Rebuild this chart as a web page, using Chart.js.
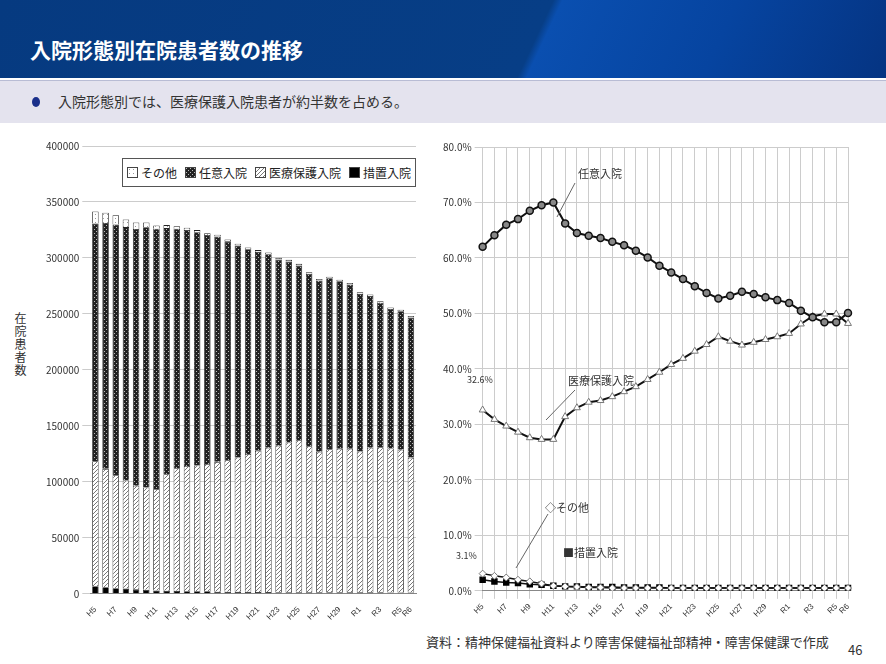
<!DOCTYPE html>
<html><head><meta charset="utf-8">
<script src="https://cdn.jsdelivr.net/npm/chart.js@4"></script>
<style>
body{margin:0;width:886px;height:664px;background:#fff;font-family:"Noto Sans CJK JP","Noto Sans",sans-serif;position:relative;overflow:hidden}
#hdr{position:absolute;left:0;top:0;width:886px;height:78px;background:linear-gradient(115deg,#063a80 0%,#073e86 60%,#0a4fb0 61%,#0644a0 80%,#053482 100%)}
#hdr span{position:absolute;left:30px;top:34px;color:#fff;font-size:21px;font-weight:bold}
#sub{position:absolute;left:0;top:80px;width:886px;height:42px;background:#e4e3ee;border-top:1px solid #b8bcd4}
#sub span{position:absolute;left:58px;top:10px;font-size:14px;color:#333}
#sub i{position:absolute;left:32px;top:16px;width:8px;height:10px;border-radius:50%;background:#1a2f8a}
#c1{position:absolute;left:30px;top:137px}
#c2{position:absolute;left:430px;top:138px}
#yt{position:absolute;left:12px;top:312px;font-size:12px;writing-mode:vertical-rl;color:#333;letter-spacing:1px}
#leg{position:absolute;left:122px;top:158px;width:292px;height:27px;border:1px solid #555;background:#fff;font-size:12px;display:flex;align-items:center;justify-content:space-around;color:#222}
#leg div{display:flex;align-items:center}
#leg canvas{border:1px solid #444;margin-right:3px}
#foot{position:absolute;left:426px;top:632px;font-size:13px;color:#333}
#pg{position:absolute;left:848px;top:640px;font-size:13px;color:#333}
</style></head><body>
<div id="hdr"><span>入院形態別在院患者数の推移</span></div>
<div id="sub"><i></i><span>入院形態別では、医療保護入院患者が約半数を占める。</span></div>
<canvas id="c1" width="400" height="488"></canvas>
<canvas id="c2" width="440" height="484"></canvas>
<div id="yt">在院患者数</div>
<div id="leg"></div>
<div id="foot">資料：精神保健福祉資料より障害保健福祉部精神・障害保健課で作成</div>
<div id="pg">46</div>
<script>
const years=["H5","H6","H7","H8","H9","H10","H11","H12","H13","H14","H15","H16","H17","H18","H19","H20","H21","H22","H23","H24","H25","H26","H27","H28","H29","H30","R1","R2","R3","R4","R5","R6"];
const shownLabels=["H5","H7","H9","H11","H13","H15","H17","H19","H21","H23","H25","H27","H29","R1","R3","R5","R6"];
const totals=[342500,342500,339500,337700,335000,334400,332000,332000,331700,329300,327500,325100,323000,319000,314900,312200,309500,307700,302800,301000,296200,289600,283500,285300,282900,279900,271200,268500,261900,257600,255500,249900];
const ninniPct=[62.0,64.1,66.0,67.0,68.5,69.5,70.0,66.2,64.5,64.0,63.6,62.9,62.3,61.3,60.1,58.6,57.4,56.2,54.9,53.7,52.7,53.2,53.9,53.5,52.9,52.4,51.9,50.5,49.3,48.4,48.4,50.1];
const iryoPct=[32.6,30.9,29.7,28.6,27.6,27.3,27.3,31.4,33.0,34.0,34.3,35.0,35.9,36.8,38.1,39.4,40.8,41.9,43.2,44.4,45.8,45.0,44.3,44.8,45.3,45.8,46.4,48.1,49.5,49.9,49.9,48.2];
const sochiPct=[2.0,1.7,1.5,1.4,1.2,1.1,0.9,0.8,0.8,0.7,0.7,0.7,0.6,0.6,0.6,0.6,0.5,0.5,0.5,0.5,0.5,0.5,0.5,0.5,0.5,0.5,0.5,0.5,0.5,0.5,0.5,0.5];
const sonotaPct=[3.1,2.7,2.4,2.0,1.7,1.3,0.9,0.8,0.7,0.6,0.6,0.5,0.5,0.5,0.5,0.5,0.5,0.5,0.5,0.5,0.5,0.5,0.5,0.5,0.5,0.5,0.5,0.5,0.5,0.5,0.5,0.5];
const share=(p)=>totals.map((t,i)=>Math.round(t*p[i]/100));

function pat(kind){
  const c=document.createElement('canvas');c.width=c.height=4;const g=c.getContext('2d');
  if(kind==='ninni'){g.fillStyle='#222';g.fillRect(0,0,4,4);g.fillStyle='#bbb';g.fillRect(0,0,1,1);g.fillRect(2,2,1,1);}
  else if(kind==='iryo'){g.fillStyle='#fff';g.fillRect(0,0,4,4);g.strokeStyle='#777';g.lineWidth=1;g.beginPath();g.moveTo(0,4);g.lineTo(4,0);g.stroke();}
  else if(kind==='sonota'){g.fillStyle='#fff';g.fillRect(0,0,4,4);g.fillStyle='#999';g.fillRect(1,1,1,1);}
  else {g.fillStyle='#000';g.fillRect(0,0,4,4);}
  return g.createPattern(c,'repeat');
}
const legItems=[["その他","sonota"],["任意入院","ninni"],["医療保護入院","iryo"],["措置入院","sochi"]];
const leg=document.getElementById('leg');
legItems.forEach(([t,k])=>{const d=document.createElement('div');const cv=document.createElement('canvas');cv.width=9;cv.height=9;const g=cv.getContext('2d');g.fillStyle=pat(k);g.fillRect(0,0,9,9);d.appendChild(cv);d.appendChild(document.createTextNode(t));leg.appendChild(d);});

const tickCb=function(v,i){const l=years[i];return shownLabels.includes(l)?l:'';};
const font={family:'"Noto Sans CJK JP",sans-serif',size:10};
new Chart(document.getElementById('c1'),{type:'bar',
 data:{labels:years,datasets:[
  {label:'措置入院',data:share(sochiPct),backgroundColor:pat('sochi'),borderColor:'#222',borderWidth:0.8},
  {label:'医療保護入院',data:share(iryoPct),backgroundColor:pat('iryo'),borderColor:'#222',borderWidth:0.8},
  {label:'任意入院',data:share(ninniPct),backgroundColor:pat('ninni'),borderColor:'#222',borderWidth:0.8},
  {label:'その他',data:share(sonotaPct),backgroundColor:pat('sonota'),borderColor:'#222',borderWidth:0.8}]},
 options:{responsive:false,animation:false,layout:{padding:{left:13,right:14,top:5}},
  plugins:{legend:{display:false},tooltip:{enabled:false}},
  datasets:{bar:{categoryPercentage:0.85,barPercentage:0.75}},
  scales:{x:{stacked:true,grid:{display:false},border:{color:'#888'},ticks:{autoSkip:false,maxRotation:45,minRotation:45,font:{size:8},color:'#333',callback:tickCb}},
   y:{stacked:true,min:0,max:400000,ticks:{stepSize:50000,font:font,color:'#333',callback:v=>String(v)},grid:{color:'#ccc'},border:{display:false}}}}});

const ann={id:'ann',afterDraw(ch){const g=ch.ctx;g.save();g.font='11px "Noto Sans CJK JP",sans-serif';g.fillStyle='#333';g.strokeStyle='#666';g.lineWidth=1;
 const o=430,t=138;
 const line=(a,b,c,d)=>{g.beginPath();g.moveTo(a-o,b-t);g.lineTo(c-o,d-t);g.stroke();};
 const txt=(s,x,y)=>g.fillText(s,x-o,y-t);
 txt('任意入院',578,178);line(575,183,557,217);
 txt('医療保護入院',568,385);line(575,390,546,420);
 g.font='9px "Noto Sans CJK JP",sans-serif';txt('32.6%',467,383);txt('3.1%',456,559);
 g.font='11px "Noto Sans CJK JP",sans-serif';txt('◇その他',545,512);line(548,514,516,568);
 txt('■措置入院',563,557);
 g.restore();}};
new Chart(document.getElementById('c2'),{type:'line',
 data:{labels:years,datasets:[
  {label:'任意入院',data:ninniPct,borderColor:'#111',borderWidth:2,pointStyle:'circle',pointRadius:3.5,pointBackgroundColor:'#888',pointBorderColor:'#111',pointBorderWidth:1.5},
  {label:'医療保護入院',data:iryoPct,borderColor:'#111',borderWidth:2,pointStyle:'triangle',pointRadius:4,pointBackgroundColor:'#fff',pointBorderColor:'#777',pointBorderWidth:1},
  {label:'その他',data:sonotaPct,borderColor:'#111',borderWidth:1.5,pointStyle:'rectRot',pointRadius:3.5,pointBackgroundColor:'#fff',pointBorderColor:'#777',pointBorderWidth:1},
  {label:'措置入院',data:sochiPct,borderColor:'#111',borderWidth:1.5,pointStyle:'rect',pointRadius:3.5,pointBackgroundColor:'#000',pointBorderColor:'#000'}]},
 options:{responsive:false,animation:false,layout:{padding:{left:10,right:22,top:5}},
  plugins:{legend:{display:false},tooltip:{enabled:false}},
  scales:{x:{offset:false,grid:{color:'#ccc'},border:{color:'#888'},ticks:{autoSkip:false,maxRotation:45,minRotation:45,font:{size:8},color:'#333',callback:tickCb}},
   y:{min:0,max:80,ticks:{stepSize:10,font:font,color:'#333',callback:v=>v.toFixed(1)+'%'},grid:{color:'#ccc'},border:{display:false}}}},
 plugins:[ann]});
</script></body></html>
